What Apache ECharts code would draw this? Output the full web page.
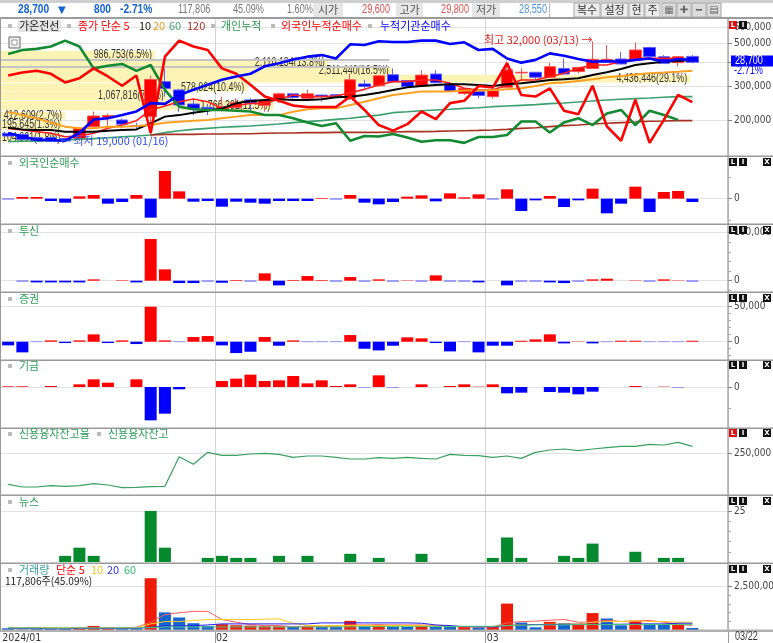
<!DOCTYPE html>
<html><head><meta charset="utf-8">
<style>html,body{margin:0;padding:0;background:#fff}#c{width:773px;height:643px}</style>
<script src="https://cdn.jsdelivr.net/npm/echarts@6/dist/echarts.min.js"></script>
</head><body><div id="c"></div>
<script>
// ---------- data ----------
const dates = ['01/11','01/12','01/15','01/16','01/17','01/18','01/19','01/22','01/23','01/24','01/25','01/26','01/29','01/30','01/31',
'02/01','02/02','02/05','02/06','02/07','02/08','02/13','02/14','02/15','02/16','02/19','02/20','02/21','02/22','02/23','02/26','02/27','02/28','02/29',
'03/04','03/05','03/06','03/07','03/08','03/11','03/12','03/13','03/14','03/15','03/18','03/19','03/20','03/21','03/22','',''];
const axisTickLabels = {0:'2024/01',15:'02',34:'03'};
// [open, close, low, high]
const candles = [[19830,19550,19500,19850],[19720,19200,19150,19750],[19400,19000,19000,19450],[19400,19050,19000,19400],[19300,19050,19050,19350],
[19300,20350,19250,20500],[20530,21700,20350,22200],[21550,21750,20530,22000],[21250,20800,20350,21400],[20650,20530,20350,20950],
[21630,26250,19650,26800],[25950,25050,24000,27800],[24850,22980,22200,25000],[23100,22550,21800,23600],[22700,22500,21800,23100],
[22400,22800,22200,24000],[22700,23250,22500,23800],[23600,23200,22200,23800],[22950,23500,22200,23600],[23700,24350,23200,24500],
[24350,23900,23600,24400],[23800,24350,23700,24900],[24200,24000,23400,24250],[24250,24100,24000,24300],[23800,26200,23600,27000],
[25650,25300,25050,26200],[25400,26750,25300,26800],[26900,25950,25850,27800],[26100,25300,25250,26150],[25400,26850,25350,27550],
[27000,25800,25700,27550],[25650,24650,24600,25950],[24400,25050,24200,25100],[24650,24150,23800,24750],[24000,24750,23750,25250],
[25200,27600,25000,28800],[27150,27250,26200,27800],[27250,26550,26200,27300],[26550,28050,26450,28650],[27800,27000,26950,29300],
[27350,27950,27100,28000],[27800,29150,27750,32000],[28800,29150,28750,31400],[29200,28450,28400,30300],[29050,30600,29000,31800],
[31000,29550,29500,31150],[29550,28550,28500,29800],[28650,29550,28100,29650],[29600,28700,28550,29800]];
const ma5 = [20350,20170,20000,19830,19480,19550,19830,20350,20710,21180,22390,22860,23380,23710,23380,22580,22860,23180,23180,23670,24210,24000,24000,24080,24500,24930,25500,25950,25950,26180,26180,25730,25060,24850,24850,25500,26180,26180,26640,27100,27820,28300,28300,28800,29300,29300,29300,29300,29050];
const ma10 = [20420,20240,20170,20170,20000,20000,20000,20100,20170,20240,20890,21630,21800,22080,22310,22580,23180,23470,23590,23670,23590,23590,23670,23920,24000,24210,24500,24850,25190,25370,25500,25590,25590,25500,25370,25590,25730,25950,26180,26270,26410,26870,27240,27720,28300,28550,28800,28900,29050];
const ma20 = [22190,21800,21440,20960,20530,20350,20350,20530,20530,20600,20710,20960,21070,21180,21250,21440,21630,21800,21800,21800,22190,22470,22580,22580,22980,23380,23790,24210,24420,24640,24640,24640,24770,24770,24850,24930,25060,25370,25730,25820,26050,26270,26550,26730,26920,27100,27200,27340,27480];
const ma60 = [18990,19020,19050,19080,19150,19220,19290,19380,19480,19550,19650,19900,20100,20240,20350,20460,20530,20600,20710,20820,20960,21070,21180,21320,21440,21630,21800,22080,22190,22310,22390,22470,22580,22660,22780,22860,22940,23020,23140,23220,23340,23470,23590,23670,23750,23830,23920,24000,24000];
const ma120 = [null,null,null,null,null,null,null,null,null,null,19650,19720,19720,19720,19760,19760,19790,19790,19830,19860,19860,19900,19900,19930,19930,19930,19930,19970,20000,20000,20030,20070,20100,20130,20170,20240,20350,20420,20530,20640,20710,20820,20890,20960,21030,21110,21140,21180,21180];
const individualCum = [439000,460000,466000,479000,514000,479000,370000,382000,390000,359000,385000,287000,235000,228000,226000,226000,224000,222000,213000,213000,205000,195000,187000,193000,157000,166000,165000,170000,163000,155000,158000,158000,153000,164000,164000,168000,197000,197000,173000,195000,205000,189000,217000,226000,189000,224000,213000,201000,null];
const foreignCum = [340000,352000,360000,347000,313000,329000,370000,336000,301000,340000,172000,425000,514000,479000,460000,370000,347000,305000,265000,252000,238000,234000,234000,234000,265000,226000,189000,177000,191000,222000,203000,245000,252000,300000,295000,393000,270000,265000,292000,224000,215000,301000,186000,157000,255000,153000,201000,270000,248000];
const institutionCum = [172000,165000,159000,158000,157000,172000,202000,205000,213000,222000,245000,243000,270000,287000,305000,323000,336000,347000,379000,393000,411000,425000,433000,416000,492000,488000,510000,506000,506000,514000,514000,494000,504000,460000,466000,416000,396000,409000,442000,430000,413000,400000,403000,400000,409000,416000,400000,413000,409000];
// volume-at-price rows: [share %, high price, low price, label]
const profilePct = [6.5,13.8,16.5,29.1,10.4,7.0,11.5,2.7,2.6,2.6];
const profileHigh = [30450,29150,28060,26870,25730,24640,23470,22190,21180,19830];
const profileLow = [29150,28060,26870,25820,24640,23510,22390,21320,20240,18990];
const profileLabels = ['986,753(6.5%)','2,110,134(13.8%)','2,511,440(16.5%)','4,436,446(29.1%)','578,824(10.4%)','1,067,816(7.0%)','1,766,381(11.5%)','412,609(2.7%)','195,645(1.3%)','104,861(1.8%)'];
const profileRulePrices = [29150,28060];
const foreignNet = [-2000,5000,5000,-7000,-12000,7000,11000,-15000,-10000,11000,-57000,83000,22000,-9000,-7000,-24000,-9000,-12000,-15000,-7000,-7000,-7000,2000,-2000,11000,-12000,-17000,-10000,6000,10000,-8000,16000,4000,13000,-2000,28000,-37000,-5000,8000,-25000,-5000,30000,-44000,-15000,36000,-40000,20000,23000,-10000];
const trustNet = [0,-1400,-3500,-3500,-3500,-3500,2800,0,1000,-3500,86800,23600,-4900,-4900,-1400,-4200,1400,-1400,15300,-9700,1400,9700,1400,-1400,7600,-1400,2800,-1400,700,-1400,11100,-1400,-1400,-3500,0,-9700,-1400,-1400,-3500,-4900,-1400,2800,4200,0,700,-1400,2800,700,-1400];
const securitiesNet = [-5200,-15200,-500,1900,-1900,1900,10500,-1900,1900,-3300,50000,1900,-500,6700,8100,-5200,-16200,-14300,6700,-5700,1900,-500,-500,-500,9500,-10000,-12400,-5700,6200,4800,-1900,-13800,-500,-15200,-5700,-5700,1400,3300,10500,-2400,500,-2400,-500,1400,1400,-500,-500,-500,1400];
const fundNet = [2000,2000,0,3000,0,8000,23000,13000,0,23000,-100000,-80000,-7000,0,0,18000,25000,37000,18000,20000,33000,11000,20000,3000,8000,-1000,35000,-1000,0,8000,0,3000,8000,1000,8000,-19000,-17000,0,-15000,-17000,-22000,-14000,0,0,3000,0,1000,-1000,0];
const creditBalance = [157000,149000,149000,153000,151000,153000,159000,155000,147000,148000,150000,151000,240000,217000,253000,244000,244000,248000,250000,247000,238000,242000,242000,238000,233000,233000,237000,235000,238000,235000,233000,247000,244000,243000,238000,242000,235000,253000,260000,263000,258000,263000,267000,271000,271000,277000,275000,283000,271000];
const newsCount = [0,0,0,0,3,7,3,0,0,0,25,7,0,0,2,3,2,2,0,3,0,3,0,0,4,0,2,0,0,4,0,0,0,0,2,12,2,0,0,3,2,9,0,0,5,0,2,2,0];
const volume = [98000,39000,59000,78000,78000,59000,234000,98000,98000,98000,2988000,1016000,723000,391000,234000,332000,273000,254000,215000,215000,215000,215000,176000,176000,527000,215000,312000,195000,195000,254000,195000,234000,176000,156000,176000,1523000,430000,156000,469000,391000,312000,977000,664000,273000,508000,352000,352000,312000,117806];
const volumeUp = [0,0,0,0,0,1,1,1,0,0,1,0,0,0,0,1,1,1,1,1,0,1,0,0,1,0,1,0,0,1,0,0,1,0,1,1,0,0,1,0,1,1,0,0,1,0,0,1,0];
const volMa5 = [117000,117000,117000,117000,117000,117000,117000,117000,117000,156000,449000,879000,996000,1074000,1074000,605000,449000,312000,254000,254000,195000,195000,195000,195000,293000,293000,293000,293000,293000,293000,254000,215000,176000,176000,176000,410000,488000,508000,566000,605000,449000,449000,566000,488000,527000,547000,449000,352000,254000];
const volMa10 = [117000,117000,117000,117000,117000,117000,117000,117000,117000,137000,352000,488000,488000,547000,605000,605000,605000,605000,625000,644000,391000,254000,254000,254000,254000,254000,254000,254000,254000,254000,234000,215000,195000,195000,195000,254000,312000,312000,332000,352000,352000,449000,488000,488000,527000,488000,488000,449000,449000];
const volMa20 = [98000,98000,98000,59000,59000,98000,98000,98000,98000,98000,156000,234000,234000,254000,293000,352000,352000,352000,352000,352000,352000,352000,410000,410000,410000,410000,410000,410000,410000,391000,293000,254000,195000,195000,176000,254000,293000,312000,312000,332000,332000,332000,332000,332000,352000,352000,352000,391000,391000];
const volMa60 = [117000,117000,117000,117000,117000,117000,117000,117000,117000,117000,137000,176000,176000,176000,176000,176000,176000,176000,176000,176000,176000,176000,176000,176000,176000,195000,195000,195000,195000,195000,195000,195000,215000,215000,215000,254000,273000,293000,293000,293000,312000,312000,312000,312000,312000,312000,312000,312000,312000];
const yLabelsMain = [600000,500000,300000,200000];
const yGridMain = [600000,500000,400000,300000,200000];
// ---------- layout ----------
const panels = [[19,156],[156,224],[224,292],[292,360],[360,428],[428,495],[495,563],[563,630]];
const RED='#ff0000', BLUE='#0000ff', KO='"Noto Sans CJK KR","Liberation Sans",sans-serif', NUM='"DejaVu Sans Condensed","Liberation Sans",sans-serif', NARROW='"Liberation Sans",sans-serif';
const fmt = v => Number(v).toLocaleString('en-US');

const grids = panels.map(p => ({left:1,right:45,top:p[0],height:p[1]-p[0],show:false,containLabel:false,outerBoundsMode:'none'}));
const xAxes = panels.map((p,i)=>({
  type:'category',gridIndex:i,data:dates,
  axisLine:{show:false},
  axisTick:i===7?{show:true,length:13,interval:k=>axisTickLabels[k]!==undefined&&k>0,lineStyle:{color:'#999'}}:{show:false},
  axisLabel:i===7?{show:true,margin:3,align:'left',color:'#333',fontFamily:NUM,fontSize:10.5,padding:[0,0,0,-6],
    interval:k=>axisTickLabels[k]!==undefined,formatter:(v,k)=>axisTickLabels[k]||''}:{show:false},
  splitLine:{show:true,interval:k=>k===15||k===34,lineStyle:{color:'#d4d4d4',width:1}}
}));
xAxes.push({type:'value',gridIndex:0,min:0,max:30.7,show:false});

function valAxis(grid,min,max,labelled,minor,extra,gridVals){
  return [Object.assign({type:'value',gridIndex:grid,position:'right',min,max,scale:true,
    axisLine:{show:true,lineStyle:{color:'#aaa',width:1.5}},
    axisTick:{show:true,length:4,customValues:gridVals||labelled,lineStyle:{color:'#888'}},
    axisLabel:{show:true,margin:6,color:'#444',fontFamily:NUM,fontSize:10,customValues:labelled,formatter:v=>fmt(v),hideOverlap:false},
    splitLine:{show:true,lineStyle:{color:'#e2e2e2',width:1}}},extra||{}),
   Object.assign({type:'value',gridIndex:grid,position:'right',min,max,scale:true,
    axisLine:{show:false},axisLabel:{show:false},splitLine:{show:false},
    axisTick:{show:true,length:3,customValues:minor,lineStyle:{color:'#aaa'}}},extra||{})];
}
const yAxes = [
 {type:'log',logBase:10,gridIndex:0,min:17620,max:35960,show:false},
 ...valAxis(0,131000,664000,yLabelsMain,[],{type:'log',logBase:10},yGridMain),  // 1,2
 ...valAxis(1,-76000,128000,[0],[-65000,65000]),      // 3,4
 ...valAxis(2,-23500,118100,[0,100000],[-20000,20000,40000,60000,80000]), // 5,6
 ...valAxis(3,-26100,71000,[0,50000],[-20000,-10000,10000,20000,30000,40000]), // 7,8
 ...valAxis(4,-123000,81000,[0],[-65000,65000]),      // 9,10
 ...valAxis(5,125000,326000,[250000],[]),             // 11,12
 ...valAxis(6,-0.5,32.8,[25],[0,5,10,15,20]),         // 13,14
 ...valAxis(7,0,3866000,[2500000],[500000,1000000,1500000,2000000]) // 15,16
];
const line=(name,data,xi,yi,color,width,z)=>({name,type:'line',xAxisIndex:xi,yAxisIndex:yi,data,symbol:'none',connectNulls:false,
  lineStyle:{color,width},itemStyle:{color},z:z||4,silent:true,clip:true});
const bars=(name,data,grid,yi,colorFn)=>({name,type:'bar',xAxisIndex:grid,yAxisIndex:yi,data,barWidth:12,silent:true,
  itemStyle:{color:colorFn}});
const signCol=p=>p.value>=0?RED:BLUE;

const profileData = profilePct.map((p,i)=>[p,profileHigh[i],profileLow[i],profileLabels[i]]);
const series = [
 {type:'custom',name:'매물대',xAxisIndex:8,yAxisIndex:0,z:1,silent:true,clip:true,data:profileData,encode:{x:0,y:[1,2]},
  renderItem(params,api){
    const a=api.coord([0,api.value(1)]), b=api.coord([api.value(0),api.value(2)]);
    const lbl=profileLabels[params.dataIndex];
    const small=params.dataIndex>=8;
    return {type:'group',children:[
      {type:'rect',shape:{x:a[0],y:a[1],width:b[0]-a[0],height:b[1]-a[1]},style:{fill:'#fdf3b4'}},
      {type:'text',x:small?a[0]+1:b[0]-3,y:(a[1]+b[1])/2,scaleX:0.74,style:{x:0,y:0,text:lbl,align:small?'left':'right',verticalAlign:'middle',fill:'#333',font:'12px '+NARROW}}
    ]};
  },
  markLine:{silent:true,symbol:'none',label:{show:false},lineStyle:{color:'#c4c4c4',width:2,type:'solid'},
    data:profileRulePrices.map(p=>[{xAxis:0,yAxis:p},{xAxis:16.4,yAxis:p}])}},
 {type:'candlestick',name:'가온전선',xAxisIndex:0,yAxisIndex:0,data:candles,barWidth:12,z:3,silent:true,
  itemStyle:{color:RED,color0:BLUE,borderColor:'#ff5050',borderColor0:'#6060ff',borderWidth:1}},
 line('종가 단순 5',ma5,0,0,'#ff2020',1.6),
 line('10',ma10,0,0,'#000000',2),
 line('20',ma20,0,0,'#ffa020',2),
 line('60',ma60,0,0,'#3aa070',1.6),
 line('120',ma120,0,0,'#a83020',1.6),
 line('개인누적',individualCum,0,1,'#128a32',2.6,5),
 line('외국인누적순매수',foreignCum,0,1,'#ff0000',2.6,5),
 line('누적기관순매수',institutionCum,0,1,'#0000ff',2.6,5),
 bars('외국인순매수',foreignNet,1,3,signCol),
 bars('투신',trustNet,2,5,signCol),
 bars('증권',securitiesNet,3,7,signCol),
 bars('기금',fundNet,4,9,signCol),
 line('신용융자잔고',creditBalance,5,11,'#3aa060',1.2),
 bars('뉴스',newsCount,6,13,'#058a2e'),
 bars('거래량',volume,7,15,p=>volumeUp[p.dataIndex]?'#f01a08':'#1464d2'),
 line('단순 5',volMa5,7,15,'#ff5a5a',1,6),
 line('10',volMa10,7,15,'#ffcc20',1,6),
 line('20',volMa20,7,15,'#2020f0',1,6),
 line('60',volMa60,7,15,'#50c878',1,6)
];

// ---------- chrome ----------
const g=[];
const rect=(x,y,w,h,fill,z,stroke)=>g.push({type:'rect',silent:true,z:z||50,shape:{x,y,width:w,height:h},style:{fill,stroke:stroke||null,lineWidth:stroke?1:0}});
const txt=(x,y,s,fill,opt)=>{opt=opt||{};g.push({type:'text',silent:true,z:opt.z||60,x,y,scaleX:opt.sx||1,style:{text:s,fill,
  font:(opt.bold?'bold ':'')+(opt.size||11)+'px '+(opt.fam||KO),align:opt.align||'left',verticalAlign:'middle'}});};
const num=(x,y,s,fill,opt)=>txt(x,y,s,fill,Object.assign({size:12,fam:NARROW,sx:0.76},opt||{}));
// top bar
rect(0,0,773,3,'#cfcfcf');rect(0,17,773,2,'#9c9c9c');
num(18,10,'28,700','#1464d2',{bold:true,sx:0.85});txt(58,10,'▼','#1464d2',{fam:'"DejaVu Sans"',size:10});
num(94,10,'800','#1464d2',{bold:true,sx:0.85});
num(120,10,'-2.71%','#1464d2',{bold:true,sx:0.85});
num(178,10,'117,806','#777');num(233,10,'45.09%','#777');num(287,10,'1.60%','#777');
[[313,30,'시가'],[396,27,'고가'],[472,28,'저가']].forEach(b=>{rect(b[0],3,b[1],14,'#e6e6e6');txt(b[0]+b[1]/2,10,b[2],'#555',{align:'center'});});
num(390,10,'29,600','#e05050',{align:'right'});num(469,10,'29,800','#e05050',{align:'right'});num(547,10,'28,550','#4a90e0',{align:'right'});
rect(549,3,1,14,'#bbb');
[[574,26,'복수'],[601,27,'설정'],[629,15,'현'],[645,15,'주']].forEach(b=>{rect(b[0],3,b[1],14,'#ececec',50,'#a8a8a8');txt(b[0]+b[1]/2,10,b[2],'#333',{align:'center'});});
[[662,14,'▦'],[677,14,'✚'],[692,14,'━'],[707,14,'▤']].forEach(b=>{rect(b[0],3,b[1],14,'#dcdcdc',50,'#a8a8a8');txt(b[0]+b[1]/2,10,b[2],'#666',{align:'center',fam:'"DejaVu Sans"',size:10});});
// main legend
const sq=(x,y)=>rect(x,y-2,4,4,'#bbbbbb');
sq(8,26);rect(18,20,43,12,'#e4e4e4');txt(19,26,'가온전선','#222');
sq(67,26);txt(78,26,'종가 단순 5',RED);txt(139,26,'10','#222');txt(153,26,'20','#f09a20');txt(169,26,'60','#4aa070');txt(187,26,'120','#a83020');
sq(211,26);txt(221,26,'개인누적','#2a9a4a');sq(271,26);txt(281,26,'외국인누적순매수',RED);sq(368,26);txt(380,26,'누적기관순매수',BLUE);
rect(9,37,11,11,'#efefef',50,'#666');rect(12,40,5,5,'#fff',51,'#999');
// annotations
txt(484,40,'최고 32,000 (03/13) →','#e02020',{fam:KO,size:11});
txt(60,141,'← 최저 19,000 (01/16)','#3050e0',{fam:KO,size:11});
// panel titles
const titles=[[163,'외국인순매수'],[231,'투신'],[299,'증권'],[366,'기금'],[434,'신용융자잔고율'],[502,'뉴스']];
titles.forEach(t=>{sq(8,t[0]);txt(19,t[0],t[1],'#2f9e58');});
sq(97,434);txt(108,434,'신용융자잔고','#2f9e58');
sq(8,570);txt(19,570,'거래량','#3aa0a0');txt(56,570,'단순 5',RED);txt(91,570,'10','#f0c820');txt(107,570,'20','#3030e0');txt(124,570,'60','#30c070');
txt(5,581,'117,806주(45.09%)','#222',{size:11,fam:'"Noto Sans CJK KR"',sx:0.92});
// panel dividers and borders
[156,224,292,360,428,495,563].forEach(y=>rect(0,y-0.5,773,1.5,'#9a9a9a',45));
rect(0,629.5,773,2.5,'#b0b0b0',45);rect(0,19,1,611,'#999',45);
// price tag
rect(731,55.5,42,11,BLUE,70);num(735,61,'28,700','#fff',{z:71});
num(734,71,'-2.71%',BLUE);
num(735,637,'03/22','#333');
// L I X buttons
const btn=(x,y,c,fill)=>{rect(x,y-4,8,8,fill||'#111',80);txt(x+4,y,c,'#fff',{z:81,size:7,bold:true,align:'center',fam:'"DejaVu Sans"'});};
[[25,1,0],[162,0,1],[230,0,1],[298,0,1],[365,0,1],[433,1,1],[501,0,1],[569,0,1]].forEach(b=>{
  btn(729,b[0],'L',b[1]?'#e01010':'#111');btn(739,b[0],'I');if(b[2])btn(763,b[0],'X');});

const chart=echarts.init(document.getElementById('c'),null,{renderer:'canvas',width:773,height:643});
chart.setOption({animation:false,backgroundColor:'#fff',grid:grids,xAxis:xAxes,yAxis:yAxes,series,graphic:{elements:g},tooltip:{show:false},legend:{show:false}});
</script></body></html>
